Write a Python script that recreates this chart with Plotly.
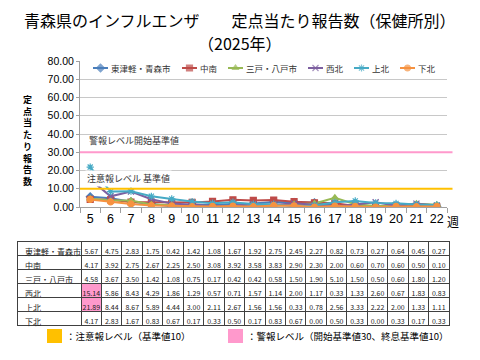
import plotly.graph_objects as go

# ---------------- data ----------------
weeks = list(range(5, 23))
week_labels = [str(w) for w in weeks]
regions = ["東津軽・青森市", "中南", "三戸・八戸市", "西北", "上北", "下北"]
v_higashi = [5.67, 4.75, 2.83, 1.75, 0.42, 1.42, 1.08, 1.67, 1.92, 2.75, 2.45, 2.27, 0.82, 0.73, 0.27, 0.64, 0.45, 0.27]
v_chunan = [4.17, 3.92, 2.75, 2.67, 2.25, 2.50, 3.08, 3.92, 3.58, 3.83, 2.90, 2.30, 2.00, 0.60, 0.70, 0.60, 0.50, 0.10]
v_sannohe = [4.58, 3.67, 3.50, 1.42, 1.08, 0.75, 0.17, 0.42, 0.42, 0.58, 1.50, 1.90, 5.10, 1.50, 0.50, 0.60, 1.80, 1.20]
v_seihoku = [15.14, 5.86, 8.43, 4.29, 1.86, 1.29, 0.57, 0.71, 1.57, 1.14, 2.00, 1.17, 0.33, 1.33, 2.60, 0.67, 1.83, 0.83]
v_kamikita = [21.89, 8.44, 8.67, 5.89, 4.44, 3.00, 2.11, 2.67, 1.56, 1.56, 0.33, 0.78, 2.56, 3.33, 2.22, 2.00, 1.33, 1.11]
v_shimokita = [4.17, 2.83, 1.67, 0.83, 0.67, 0.17, 0.33, 0.50, 0.17, 0.83, 0.67, 0.00, 0.50, 0.33, 0.00, 0.33, 0.17, 0.33]
series = [v_higashi, v_chunan, v_sannohe, v_seihoku, v_kamikita, v_shimokita]
alert_level = 10      # 注意報レベル
warning_level = 30    # 警報レベル開始
y_ticks = [0, 10, 20, 30, 40, 50, 60, 70, 80]

# ---------------- styles ----------------
FONT = "Noto Sans CJK JP"
NUMFONT = "Liberation Sans"
colors = ["#4A7EBB", "#BE4B48", "#98B954", "#7D60A0", "#46AAC5", "#F69240"]
symbols = ["diamond", "square", "triangle-up", "x-thin-open", "asterisk-open", "circle"]
ORANGE = "#FFC000"
PINK = "#FF99CC"
legend_sym_px = [93, 182, 228, 308, 354, 400]   # legend glyph left edges (px)
LEG_SYM_W = 15

W, H = 480, 360
def px_x(p): return p / W
def px_y(p): return 1 - p / H

def note(text, x, y, size, xanchor="center", yanchor="middle", **kw):
    fig.add_annotation(text=text, xref=kw.pop("xref", "paper"), yref=kw.pop("yref", "paper"), x=x, y=y,
                       xanchor=xanchor, yanchor=yanchor, showarrow=False,
                       font=dict(family=kw.pop("family", FONT), size=size, color=kw.pop("color", "black")), **kw)

fig = go.Figure()

for name, vals, c, s in zip(regions, series, colors, symbols):
    fig.add_trace(go.Scatter(
        x=week_labels, y=vals, name=name, mode="lines+markers", showlegend=False,
        line=dict(color=c, width=2),
        marker=dict(symbol=s, size=6, color=c, line=dict(color=c, width=1.2)),
        xaxis="x", yaxis="y",
    ))

# custom legend (glyphs on an overlay axis measured in pixels)
for name, c, s, lx in zip(regions, colors, symbols, legend_sym_px):
    fig.add_trace(go.Scatter(
        x=[lx, lx + LEG_SYM_W / 2, lx + LEG_SYM_W], y=[0.5, 0.5, 0.5], mode="lines+markers",
        showlegend=False, hoverinfo="skip", xaxis="x2", yaxis="y2",
        line=dict(color=c, width=2),
        marker=dict(symbol=s, size=[0, 6, 0], color=c, line=dict(color=c, width=1.2)),
    ))
    note(name, px_x(lx + LEG_SYM_W + 1), px_y(68), 8.5, xanchor="left", color="#333333")

# threshold lines
for lvl, c in [(warning_level, PINK), (alert_level, ORANGE)]:
    fig.add_shape(type="line", xref="x domain", yref="y", x0=0, x1=1.015, y0=lvl, y1=lvl,
                  line=dict(color=c, width=2), layer="above")

note("警報レベル開始基準値", px_x(87), warning_level, 9, xanchor="left", yanchor="bottom",
     yref="y", yshift=3, color="#333333")
note("注意報レベル 基準値", px_x(85), alert_level, 9, xanchor="left", yanchor="bottom",
     yref="y", yshift=2, bgcolor="white", color="#333333")

# y-axis title stacked characters
ytitle = "定点当たり報告数"
note("<b>" + "<br>".join(ytitle) + "</b>", px_x(27), px_y(141), 9)

note("週", px_x(453), px_y(221), 12)

# title
note("青森県のインフルエンザ　　定点当たり報告数（保健所別）", 0.5, px_y(20), 16)
note("（2025年）", 0.5, px_y(43), 16)

# ---------------- table ----------------
fmt = lambda v: "%.2f" % v
cols_all = [regions] + [[fmt(s[j]) for s in series] for j in range(len(weeks))]
fill_all = [["white"] * len(regions)] + [[PINK if s[j] >= alert_level and j == 0 else "white" for s in series]
                                          for j in range(len(weeks))]
header_vals = [c[0] for c in cols_all]
header_fill = [f[0] for f in fill_all]
cell_vals = [c[1:] for c in cols_all]
cell_fill = [f[1:] for f in fill_all]
aligns = ["left"] + ["center"] * len(weeks)
fsizes = [8] + [7] * len(weeks)

fig.add_trace(go.Table(
    domain=dict(x=[px_x(17), px_x(449)], y=[px_y(328), px_y(241)]),
    columnwidth=[64] + [20.4] * len(weeks),
    header=dict(values=header_vals, fill=dict(color=header_fill), align=aligns, height=14,
                line=dict(color="#404040", width=1),
                font=dict(family=FONT, size=fsizes, color="#222222")),
    cells=dict(values=cell_vals, fill=dict(color=cell_fill), align=aligns, height=14,
               line=dict(color="#404040", width=1),
               font=dict(family=FONT, size=fsizes, color="#222222")),
))

# bottom legend
fig.add_shape(type="rect", xref="paper", yref="paper", x0=px_x(47), x1=px_x(62), y0=px_y(343), y1=px_y(329),
              fillcolor=ORANGE, line=dict(width=0))
fig.add_shape(type="rect", xref="paper", yref="paper", x0=px_x(228), x1=px_x(243), y0=px_y(343), y1=px_y(329),
              fillcolor=PINK, line=dict(width=0))
note("：注意報レベル（基準値10）", px_x(64), px_y(336), 9.5, xanchor="left")
note("：警報レベル（開始基準値30、終息基準値10）", px_x(245), px_y(336), 9.5, xanchor="left")

fig.update_layout(
    width=W, height=H, margin=dict(l=0, r=0, t=0, b=0, autoexpand=False),
    paper_bgcolor="white", plot_bgcolor="white",
    font=dict(family=FONT, color="black"),
    showlegend=False,
    xaxis=dict(domain=[px_x(80), px_x(447)], type="category", tickson="boundaries", automargin=False,
               range=[-0.5, len(weeks) - 0.5],
               ticks="outside", ticklen=5, tickcolor="#A0A0A0", showline=True, linecolor="#A0A0A0",
               showgrid=False, tickangle=0, tickfont=dict(family=NUMFONT, size=12.5, color="black")),
    yaxis=dict(domain=[px_y(207), px_y(61)], range=[0, 80], tickvals=y_ticks, tickformat=".2f",
               automargin=False,
               showgrid=True, gridcolor="#C8C8C8", showline=True, linecolor="#A0A0A0",
               ticks="outside", ticklen=3, tickcolor="#A0A0A0", zeroline=False,
               tickfont=dict(family=NUMFONT, size=10.5, color="black")),
    xaxis2=dict(domain=[px_x(80), px_x(447)], range=[80, 447], visible=False, fixedrange=True),
    yaxis2=dict(domain=[px_y(75), px_y(61)], range=[0, 1], visible=False, fixedrange=True),
)

fig.write_html("out.html", config={"displayModeBar": False},
               post_script="document.body.style.margin='0';")
